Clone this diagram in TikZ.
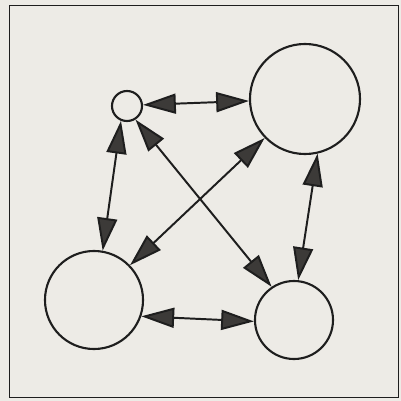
\documentclass[tikz,border=0pt]{standalone}
\usepackage{xcolor}
\usepackage{tikz}
\usetikzlibrary{arrows.meta}
\definecolor{paper}{HTML}{EDEBE6}
\definecolor{ink}{HTML}{1E1E1E}
\definecolor{headfill}{HTML}{3C3A38}

\begin{document}
\begin{tikzpicture}[
  x=0.025cm,
  y=-0.025cm,
  member/.style={
    draw=ink,
    circle,
    line width=1.5pt,
    inner sep=0pt
  },
  link/.style={
    {Triangle[length=8.2mm,width=5mm,fill=headfill]}-{Triangle[length=8.2mm,width=5mm,fill=headfill]},
    line width=1.4pt,
    draw=ink
  }
]

% Page and frame
\fill[paper] (0,0) rectangle (401,401);
\useasboundingbox (0,0) rectangle (401,401);
\draw[ink,line width=0.7pt] (9,5) rectangle (398,397);

% 1. Circles
\node[member,minimum size=7.5mm] (small) at (127,106) {};
\node[member,minimum size=27.5mm] (upper) at (305,99) {};
\node[member,minimum size=24.5mm] (left) at (94,300) {};
\node[member,minimum size=19.5mm] (lower) at (294,320) {};

% Connections
\draw[link] (small.4) -- (upper.182);
\draw[link] (small.-112) -- (left.80);
\draw[link] (small.-58) -- (lower.124);
\draw[link] (upper.-136) -- (left.44);
\draw[link] (upper.-77) -- (lower.84);
\draw[link] (left.-19) -- (lower.182);

\end{tikzpicture}
\end{document}
